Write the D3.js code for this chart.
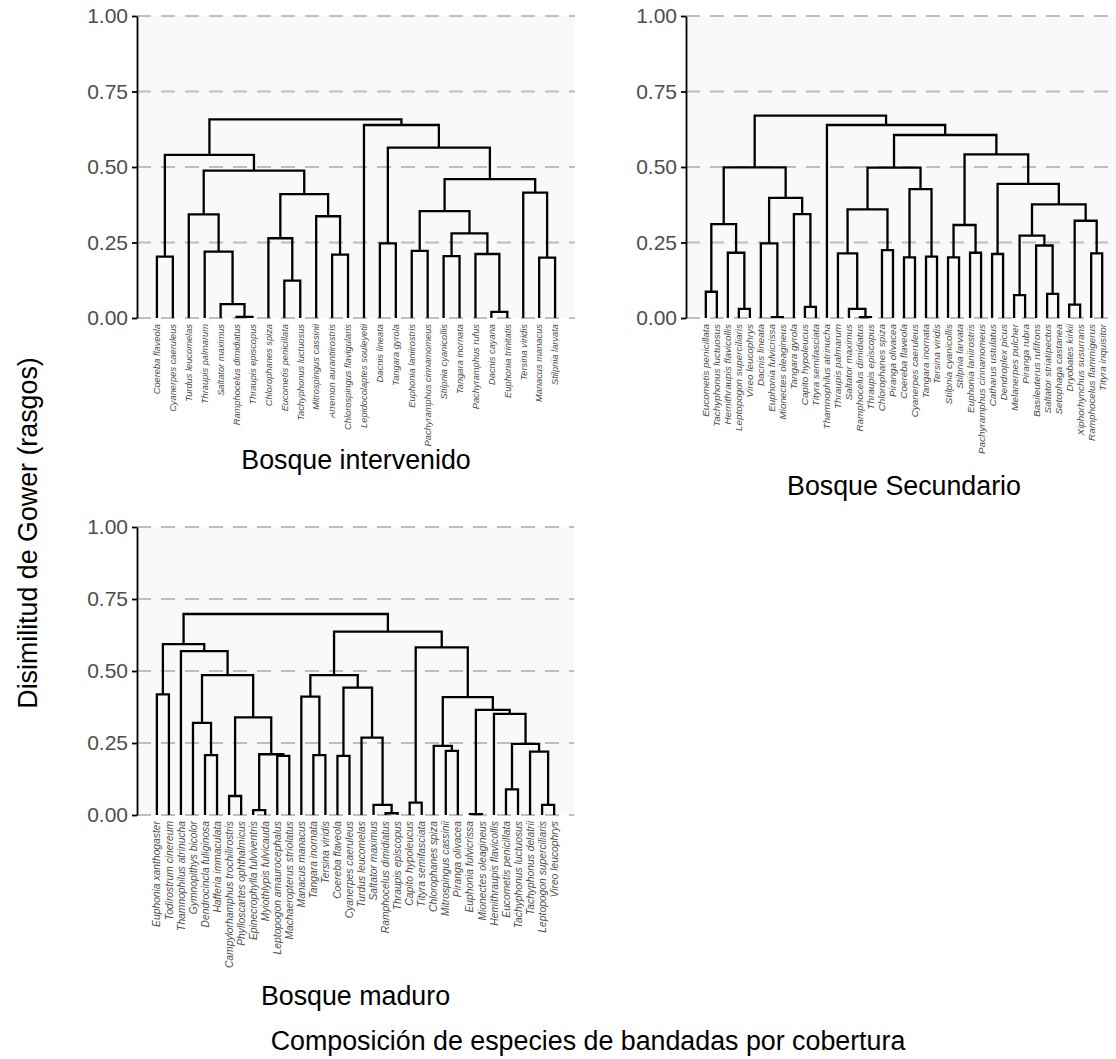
<!DOCTYPE html>
<html>
<head>
<meta charset="utf-8">
<script src="https://cdn.jsdelivr.net/npm/d3@7"></script>
<style>
  body { margin: 0; background: #fff; }
  text { font-family: "Liberation Sans", Arial, sans-serif; }
</style>
</head>
<body>
<script>
// leaf order and merges (hclust style: negative = leaf number, positive = earlier merge row)
var labelsInter = ["Coereba flaveola", "Cyanerpes caeruleus", "Turdus leucomelas", "Thraupis palmarum",
  "Saltator maximus", "Ramphocelus dimidiatus", "Thraupis episcopus", "Chlorophanes spiza",
  "Eucometis penicillata", "Tachyphonus luctuosus", "Mitrospingus cassinii", "Arremon aurantiirostris",
  "Chlorospingus flavigularis", "Lepidocolaptes souleyetii", "Dacnis lineata", "Tangara gyrola",
  "Euphonia laniirostris", "Pachyramphus cinnamomeus", "Stilpnia cyanicollis", "Tangara inornata",
  "Pachyramphus rufus", "Dacnis cayana", "Euphonia trinitatis", "Tersina viridis", "Manacus manacus",
  "Stilpnia larvata"];
var mergesInter = [
  [-6, -7, 0.004], [-22, -23, 0.02], [-5, 1, 0.046], [-9, -10, 0.124], [-1, -2, 0.203],
  [-19, -20, 0.205], [-25, -26, 0.20], [-12, -13, 0.21], [-21, 2, 0.212], [-4, 3, 0.22],
  [-17, -18, 0.222], [-15, -16, 0.247], [-8, 4, 0.264], [6, 9, 0.28], [-11, 8, 0.337],
  [-3, 10, 0.343], [11, 14, 0.354], [13, 15, 0.41], [-24, 7, 0.415], [17, 19, 0.46],
  [16, 18, 0.488], [5, 21, 0.54], [12, 20, 0.564], [-14, 23, 0.639], [22, 24, 0.658]];

var labelsSec = ["Eucometis penicillata", "Tachyphonus luctuosus", "Hemithraupis flavicollis",
  "Leptopogon superciliaris", "Vireo leucophrys", "Dacnis lineata", "Euphonia fulvicrissa",
  "Mionectes oleagineus", "Tangara gyrola", "Capito hypoleucus", "Tityra semifasciata",
  "Thamnophilus atrinucha", "Thraupis palmarum", "Saltator maximus", "Ramphocelus dimidiatus",
  "Thraupis episcopus", "Chlorophanes spiza", "Piranga olivacea", "Coereba flaveola",
  "Cyanerpes caeruleus", "Tangara inornata", "Tersina viridis", "Stilpnia cyanicollis",
  "Stilpnia larvata", "Euphonia laniirostris", "Pachyramphus cinnamomeus", "Catharus ustulatus",
  "Dendroplex picus", "Melanerpes pulcher", "Piranga rubra", "Basileuterus rufifrons",
  "Saltator striatipectus", "Setophaga castanea", "Dryobates kirkii", "Xiphorhynchus susurrans",
  "Ramphocelus flammigerus", "Tityra inquisitor"];
var mergesSec = [
  [-1, -2, 0.087], [-4, -5, 0.03], [-3, 2, 0.216], [1, 3, 0.311], [-7, -8, 0.003],
  [-6, 5, 0.247], [-10, -11, 0.037], [-9, 7, 0.344], [6, 8, 0.398], [4, 9, 0.499],
  [-15, -16, 0.003], [-14, 11, 0.03], [-13, 12, 0.214], [-17, -18, 0.225], [13, 14, 0.36],
  [-19, -20, 0.201], [-21, -22, 0.203], [16, 17, 0.427], [15, 18, 0.498], [-23, -24, 0.201],
  [-25, -26, 0.216], [20, 21, 0.308], [-27, -28, 0.212], [-29, -30, 0.076], [-32, -33, 0.08],
  [-31, 25, 0.24], [24, 26, 0.273], [-34, -35, 0.044], [-36, -37, 0.214], [28, 29, 0.322],
  [27, 30, 0.376], [23, 31, 0.444], [22, 32, 0.542], [19, 33, 0.606], [-12, 34, 0.639],
  [10, 35, 0.67]];

var labelsMad = ["Euphonia xanthogaster", "Todirostrum cinereum", "Thamnophilus atrinucha",
  "Gymnopithys bicolor", "Dendrocincla fuliginosa", "Hafferia immaculata",
  "Campylorhamphus trochilirostris", "Phylloscartes ophthalmicus", "Epinecrophylla fulviventris",
  "Myiothlypis fulvicauda", "Leptopogon amaurocephalus", "Machaeropterus striolatus",
  "Manacus manacus", "Tangara inornata", "Tersina viridis", "Coereba flaveola",
  "Cyanerpes caeruleus", "Turdus leucomelas", "Saltator maximus", "Ramphocelus dimidiatus",
  "Thraupis episcopus", "Capito hypoleucus", "Tityra semifasciata", "Chlorophanes spiza",
  "Mitrospingus cassinii", "Piranga olivacea", "Euphonia fulvicrissa", "Mionectes oleagineus",
  "Hemithraupis flavicollis", "Eucometis penicillata", "Tachyphonus luctuosus",
  "Tachyphonus delatrii", "Leptopogon superciliaris", "Vireo leucophrys"];
var mergesMad = [
  [-1, -2, 0.419], [-5, -6, 0.208], [-4, 2, 0.32], [-7, -8, 0.066], [-9, -10, 0.017],
  [-11, -12, 0.205], [5, 6, 0.211], [4, 7, 0.339], [3, 8, 0.486], [-3, 9, 0.569],
  [1, 10, 0.593], [-14, -15, 0.208], [-13, 12, 0.411], [-16, -17, 0.205], [-20, -21, 0.006],
  [-19, 15, 0.035], [-18, 16, 0.269], [14, 17, 0.442], [13, 18, 0.486], [-22, -23, 0.043],
  [-25, -26, 0.223], [-24, 21, 0.24], [-27, -28, 0.003], [-30, -31, 0.089], [-33, -34, 0.035],
  [-32, 25, 0.22], [24, 26, 0.247], [-29, 27, 0.351], [23, 28, 0.365], [22, 29, 0.409],
  [20, 30, 0.582], [19, 31, 0.637], [11, 32, 0.698]];

var yTicks = [0, 0.25, 0.5, 0.75, 1];

var W = 1116, H = 1059;
var svg = d3.select("body").append("svg")
    .attr("width", W)
    .attr("height", H);

function buildTree(labels, merges) {
  var rows = [];
  function ref(i) {
    return i < 0 ? {name: labels[-i - 1], idx: -i - 1, height: 0} : rows[i - 1];
  }
  merges.forEach(function(m) {
    rows.push({height: m[2], children: [ref(m[0]), ref(m[1])]});
  });
  return rows[rows.length - 1];
}

function drawDendro(labels, merges, x0, x1, y0, y1, title, titleY, leafSize) {
  var n = labels.length;
  var xScale = d3.scaleLinear().domain([-0.05 * (n - 1), 1.05 * (n - 1)]).range([x0, x1]),
      yScale = d3.scaleLinear().domain([0, 1]).range([y1, y0]);

  var g = svg.append("g");

  // panel background
  g.append("rect")
      .attr("x", x0).attr("y", y0)
      .attr("width", x1 - x0).attr("height", y1 - y0)
      .attr("fill", "#f9f9f9");

  // dashed grid
  g.selectAll(".grid")
      .data(yTicks)
    .enter().append("line")
      .attr("class", "grid")
      .attr("x1", x0).attr("x2", x1)
      .attr("y1", yScale).attr("y2", yScale)
      .attr("stroke", "#bebebe")
      .attr("stroke-width", 2)
      .attr("stroke-dasharray", "14,10");

  // tree
  var root = d3.hierarchy(buildTree(labels, merges));
  root.eachAfter(function(d) {
    d.px = d.children ? d3.mean(d.children, function(c) { return c.px; }) : xScale(d.data.idx);
  });

  var line = d3.line();
  g.selectAll(".link")
      .data(root.descendants().filter(function(d) { return d.children; }))
    .enter().append("path")
      .attr("class", "link")
      .attr("fill", "none")
      .attr("stroke", "#000")
      .attr("stroke-width", 2.3)
      .attr("stroke-linejoin", "miter")
      .attr("d", function(d) {
        var a = d.children[0], b = d.children[1], h = yScale(d.data.height);
        return line([[a.px, yScale(a.data.height)], [a.px, h], [b.px, h], [b.px, yScale(b.data.height)]]);
      });

  // y axis
  var yAxis = d3.axisLeft(yScale)
      .tickValues(yTicks)
      .tickFormat(d3.format(".2f"))
      .tickSize(5)
      .tickSizeOuter(0)
      .tickPadding(4);
  var ax = g.append("g")
      .attr("transform", "translate(" + x0 + ",0)")
      .call(yAxis);
  ax.select(".domain").attr("stroke", "#000").attr("stroke-width", 1.8);
  ax.selectAll(".tick line").attr("stroke", "#000").attr("stroke-width", 1.8);
  ax.selectAll(".tick text")
      .attr("fill", "#4d4d4d")
      .style("font-size", "21px")
      .style("font-family", "'Liberation Sans', Arial, sans-serif");

  // leaf labels
  g.selectAll(".leaf")
      .data(root.leaves())
    .enter().append("text")
      .attr("class", "leaf")
      .attr("transform", function(d) { return "translate(" + d.px + "," + (y1 + 6) + ") rotate(-90)"; })
      .attr("dy", "0.35em")
      .style("text-anchor", "end")
      .style("font-size", leafSize + "px")
      .style("font-style", "italic")
      .attr("fill", "#4d4d4d")
      .text(function(d) { return d.data.name; });

  // panel title
  g.append("text")
      .attr("x", (x0 + x1) / 2)
      .attr("y", titleY)
      .style("text-anchor", "middle")
      .style("font-size", "26.8px")
      .attr("fill", "#000")
      .text(title);
}

drawDendro(labelsInter, mergesInter, 137, 575, 16, 318, "Bosque intervenido", 469, 9.3);
drawDendro(labelsSec, mergesSec, 686, 1122, 16, 318, "Bosque Secundario", 495, 9.9);
drawDendro(labelsMad, mergesMad, 137, 574, 527, 815, "Bosque maduro", 1005, 10.3);

// shared titles
svg.append("text")
    .attr("transform", "translate(37,533) rotate(-90)")
    .style("text-anchor", "middle")
    .style("font-size", "26.8px")
    .text("Disimilitud de Gower (rasgos)");

svg.append("text")
    .attr("x", 588)
    .attr("y", 1050)
    .style("text-anchor", "middle")
    .style("font-size", "26.8px")
    .text("Composición de especies de bandadas por cobertura");
</script>
</body>
</html>
